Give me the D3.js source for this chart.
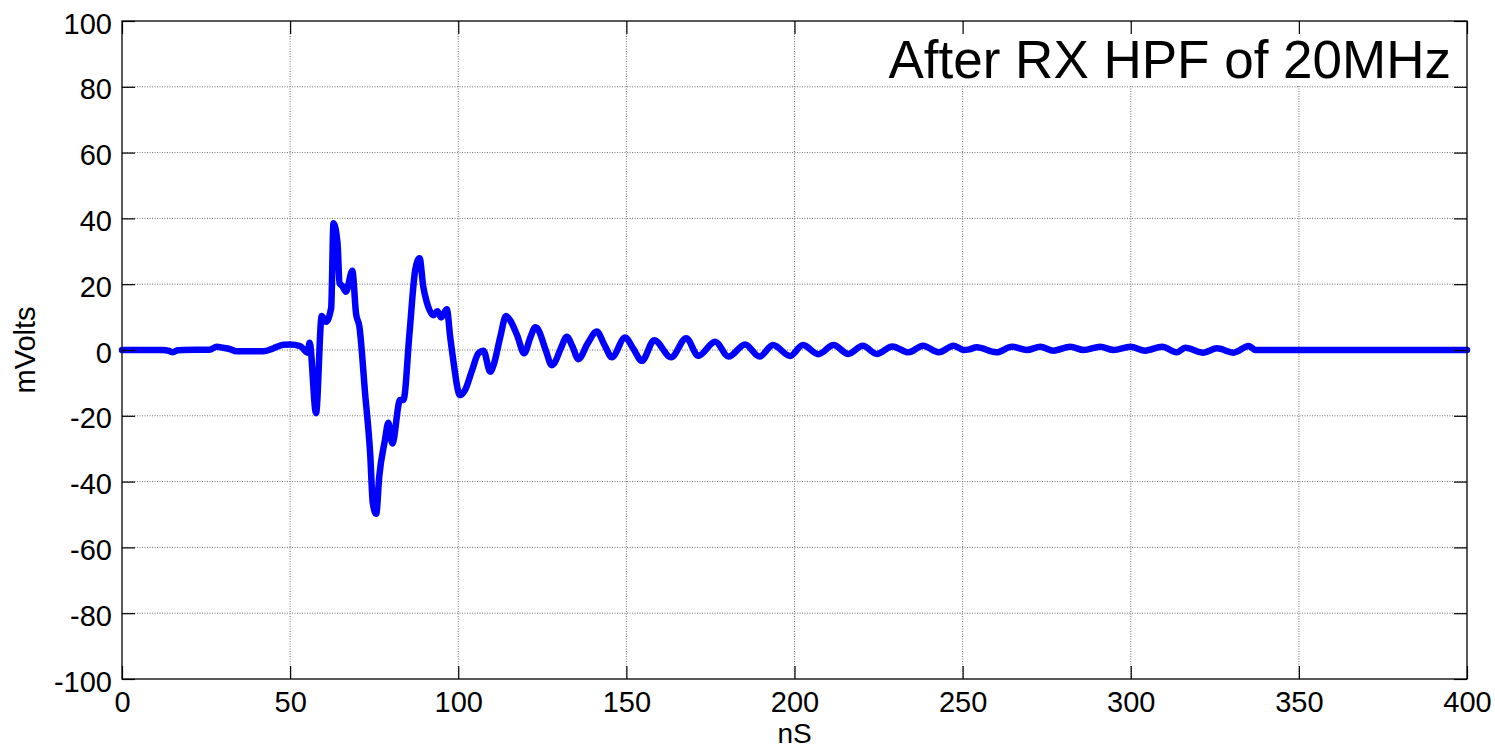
<!DOCTYPE html>
<html>
<head>
<meta charset="utf-8">
<script src="https://cdn.jsdelivr.net/npm/d3@7"></script>
<style>
  body { margin: 0; background: #fff; }
  svg { display: block; font-family: "Liberation Sans", Arial, sans-serif; }
</style>
</head>
<body>
<div id="chart"></div>
<script>
// received pulse after the 20MHz high-pass, sample times in nS
var timeNs = [0, 12, 14, 15.1, 16.5, 18, 26, 28.2, 30, 32, 34, 42, 45, 48, 50, 53,
  55.2, 55.8, 57.7, 59.4, 60.7, 62.2, 62.9, 64.1, 64.7, 65.5, 66.6, 68.5, 69.6, 70.6,
  72.3, 73.8, 74.6, 75.6, 76.5, 78.2, 79.2, 80.4, 82.7, 83.7, 85.5, 87.2, 88.5, 89.6,
  90.6, 92.6, 93.8, 94.9, 96.6, 97.6, 98.5, 100.5, 102, 104, 106, 107.5, 109.5, 110.5,
  112.5, 114.2, 115.4, 117.5, 119.6, 121.5, 122.9, 123.5, 126, 127.8, 128.5, 130.5,
  132.3, 134, 135.7, 138.5, 141.2, 143.5, 145.7, 149.6, 152, 154.6, 158.3, 163.3,
  167.8, 171.4, 176.4, 180.4, 185.3, 189.6, 193.6, 198.7, 202.5, 207.1, 211.6, 216,
  220.3, 224.5, 229.1, 233.9, 238.2, 242.9, 247.3, 250.3, 252, 254.2, 260, 264.7,
  269.1, 273.1, 277, 282, 286, 290.9, 294.9, 299.9, 304.3, 309.3, 313.7, 316.2,
  321.6, 325.6, 330.6, 335.1, 337.1, 400];

var mVolts = [0, 0, -0.3, -0.7, -0.1, 0, 0.1, 1.0, 0.7, 0.3, -0.4, -0.4, 0.5, 1.6, 1.7, 1.2,
  -0.8, 2.2, -19.2, 10.3, 8.6, 12.7, 38.5, 32.4, 20.3, 19.5, 17.7, 24.1, 11.1, 7.1,
  -13.2, -31.4, -46.6, -49.8, -38.5, -27.4, -22.1, -28.4, -15.2, -15.2, 5.1, 24.3, 27.9, 19.2,
  14.7, 10.6, 11.8, 9.9, 12.4, 4, -3, -13.7, -12.2, -6.5, -1, -0.2, -6.6, -4.6,
  4, 10.3, 9.1, 4.5, -1, 4, 6.9, 6.6, 0, -4.6, -4.1, 0.5,
  4.0, 1, -2.8, 2, 5.6, 1.5, -2.2, 3.8, 0.5, -3.3, 3.0, -2.2,
  3.6, -1.8, 2.5, -2, 1.7, -2, 1.5, -1.8, 1.5, -1.3, 1.5, -1.2,
  1.3, -1.2, 1.1, -0.7, 1.3, -0.7, 1.3, 0, 0.2, 0.8, -0.7, 1,
  0, 1, -0.2, 1, 0, 1, 0, 1, -0.2, 1, -0.7, 0.7,
  -0.8, 0.5, -0.8, 1.2, 0, 0];

var xTicks = [0, 50, 100, 150, 200, 250, 300, 350, 400];
var yTicks = [-100, -80, -60, -40, -20, 0, 20, 40, 60, 80, 100];

var titleText = "After RX HPF of 20MHz";
var xLabel = "nS";
var yLabel = "mVolts";

var width = 1495, height = 749;
var margin = {top: 21, right: 28, bottom: 70, left: 122};
var plotW = width - margin.left - margin.right;
var plotH = height - margin.top - margin.bottom;

var svg = d3.select("#chart").append("svg")
  .attr("width", width)
  .attr("height", height);

var g = svg.append("g")
  .attr("transform", "translate(" + margin.left + "," + margin.top + ")");

var x = d3.scaleLinear().domain([0, 400]).range([0, plotW]);
var y = d3.scaleLinear().domain([-100, 100]).range([plotH, 0]);

// plain hyphen for negatives
var fmt = d => String(d);

// dotted grid
g.append("g").selectAll("line.gx")
  .data(xTicks.slice(1, -1))
  .enter().append("line")
  .attr("x1", d => x(d)).attr("x2", d => x(d))
  .attr("y1", 0).attr("y2", plotH)
  .attr("stroke", "#707070")
  .attr("stroke-width", 1)
  .attr("stroke-dasharray", "1,1.5");

g.append("g").selectAll("line.gy")
  .data(yTicks.slice(1, -1))
  .enter().append("line")
  .attr("x1", 0).attr("x2", plotW)
  .attr("y1", d => y(d)).attr("y2", d => y(d))
  .attr("stroke", "#707070")
  .attr("stroke-width", 1)
  .attr("stroke-dasharray", "1,1.5");

// waveform
var pts = timeNs.map((t, i) => [t, mVolts[i]]);
var line = d3.line()
  .x(d => x(d[0]))
  .y(d => y(d[1]))
  .curve(d3.curveMonotoneX);

g.append("path")
  .datum(pts)
  .attr("d", line)
  .attr("fill", "none")
  .attr("stroke", "#0000ff")
  .attr("stroke-width", 6.5)
  .attr("stroke-linejoin", "round")
  .attr("stroke-linecap", "round");

// title box in the upper right corner
g.append("rect")
  .attr("x", 762)
  .attr("y", 1)
  .attr("width", plotW - 763)
  .attr("height", 64)
  .attr("fill", "#fff");

g.append("text")
  .attr("x", plotW - 16)
  .attr("y", 57)
  .attr("text-anchor", "end")
  .style("font-size", "53px")
  .style("fill", "#000")
  .text(titleText);

// axes with inward ticks on all four sides
var tickLen = 13;
function styleAxis(sel) {
  sel.select(".domain").remove();
  sel.selectAll(".tick line").attr("stroke", "#000").attr("stroke-width", 1.2);
  sel.selectAll(".tick text").style("font-size", "29px").style("fill", "#000")
    .style("font-family", "Liberation Sans, Arial, sans-serif");
}

g.append("g")
  .attr("transform", "translate(0," + plotH + ")")
  .call(d3.axisBottom(x).tickValues(xTicks).tickFormat(fmt).tickSize(-tickLen).tickPadding(12))
  .call(styleAxis);

g.append("g")
  .call(d3.axisTop(x).tickValues(xTicks).tickSize(-tickLen).tickFormat(""))
  .call(styleAxis);

g.append("g")
  .call(d3.axisLeft(y).tickValues(yTicks).tickFormat(fmt).tickSize(-tickLen).tickPadding(10))
  .call(styleAxis)
  .selectAll(".tick text").attr("dy", "0.42em");

g.append("g")
  .attr("transform", "translate(" + plotW + ",0)")
  .call(d3.axisRight(y).tickValues(yTicks).tickSize(-tickLen).tickFormat(""))
  .call(styleAxis);

g.append("rect")
  .attr("width", plotW).attr("height", plotH)
  .attr("fill", "none")
  .attr("stroke", "#000")
  .attr("stroke-width", 1.3);

// axis labels
svg.append("text")
  .attr("x", margin.left + plotW / 2)
  .attr("y", 743)
  .attr("text-anchor", "middle")
  .style("font-size", "28px")
  .text(xLabel);

svg.append("text")
  .attr("transform", "translate(35," + (margin.top + plotH / 2) + ") rotate(-90)")
  .attr("text-anchor", "middle")
  .style("font-size", "29px")
  .text(yLabel);
</script>
</body>
</html>
